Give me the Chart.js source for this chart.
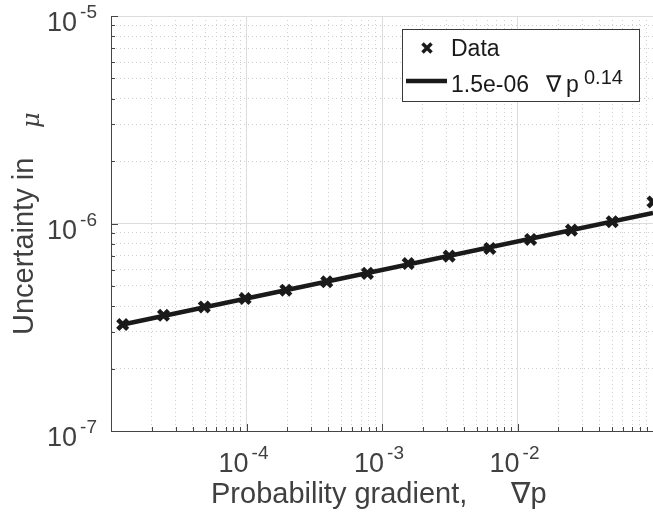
<!DOCTYPE html>
<html>
<head>
<meta charset="utf-8">
<script src="https://cdn.jsdelivr.net/npm/chart.js@4.4.1/dist/chart.umd.min.js"></script>
<style>
  html, body { margin: 0; padding: 0; background: #fff; }
  #wrap { width: 653px; height: 517px; }
</style>
</head>
<body>
<div id="wrap"><canvas id="gradChart" width="653" height="517"></canvas></div>
<script>
// Data
const gradP = [1.22e-5, 2.44e-5, 4.88e-5, 9.77e-5, 1.95e-4, 3.91e-4, 7.81e-4,
  1.56e-3, 3.13e-3, 6.25e-3, 1.25e-2, 2.5e-2, 5e-2, 1e-1];
const uncertainty = [3.26e-7, 3.61e-7, 3.96e-7, 4.35e-7, 4.77e-7, 5.24e-7, 5.75e-7,
  6.41e-7, 6.96e-7, 7.58e-7, 8.38e-7, 9.29e-7, 1.02e-6, 1.27e-6];

// Fitted power law, end points of the drawn line
const fitX = [1.22e-5, 1e-1];
const fitY = [3.26e-7, 1.125e-6];

// Axis decades and minor multipliers
const xDecades = [-5, -4, -3, -2, -1];
const yDecades = [-7, -6, -5];
const minorSteps = [1, 2, 3, 4, 5, 6, 7, 8, 9];
const xLabelExps = [-4, -3, -2];
const yLabelExps = [-7, -6, -5];

const legendLabels = ['Data', '1.5e-06', '0.14'];
const xTitle = ['Probability gradient,', '\u2207p'];
const yTitle = ['Uncertainty in', '\u03bc'];

const FONT = '"Liberation Sans", Arial, "DejaVu Sans", sans-serif';
const TEXT = '#404040';
const AXIS = '#454545';

function isDecade(v) {
  const l = Math.log10(v);
  return Math.abs(l - Math.round(l)) < 1e-6;
}

// build 1..9 x 10^n ticks inside [min, max]
function logTicks(decades, min, max) {
  const out = [];
  decades.forEach((e) => {
    minorSteps.forEach((m) => {
      const v = m * Math.pow(10, e);
      if (v >= min * 0.999 && v <= max * 1.001) out.push({ value: v, major: m === 1 });
    });
  });
  return out;
}

function gridColor(ctx) {
  if (!ctx.tick) return '#dedede';
  return isDecade(ctx.tick.value) ? '#dcdcdc' : '#cfcfcf';
}
function gridDash(ctx) {
  if (!ctx.tick) return [];
  return isDecade(ctx.tick.value) ? [] : [1, 3];
}

// draw "10" with a raised exponent
function drawPow(ctx, exp, x, baseline, align) {
  const base = '10';
  const sup = String(exp);
  ctx.font = '27px ' + FONT;
  const wb = ctx.measureText(base).width;
  ctx.font = '19px ' + FONT;
  const ws = ctx.measureText(sup).width;
  const gap = 3;
  const total = wb + gap + ws;
  let x0 = x;
  if (align === 'center') x0 = x - total / 2;
  if (align === 'right') x0 = x - total;
  ctx.textAlign = 'left';
  ctx.textBaseline = 'alphabetic';
  ctx.fillStyle = TEXT;
  ctx.font = '27px ' + FONT;
  ctx.fillText(base, x0, baseline);
  ctx.font = '19px ' + FONT;
  ctx.fillText(sup, x0 + wb + gap, baseline - 13);
}

const decorPlugin = {
  id: 'decor',
  afterDraw(chart) {
    const ctx = chart.ctx;
    const xs = chart.scales.x;
    const ys = chart.scales.y;
    const area = chart.chartArea;
    ctx.save();

    // inward tick marks
    ctx.strokeStyle = AXIS;
    ctx.lineWidth = 1;
    xs.ticks.forEach((t) => {
      const px = Math.round(xs.getPixelForValue(t.value)) + 0.5;
      const len = isDecade(t.value) ? 7 : 4;
      ctx.beginPath();
      ctx.moveTo(px, area.bottom);
      ctx.lineTo(px, area.bottom - len);
      ctx.stroke();
    });
    ys.ticks.forEach((t) => {
      const py = Math.round(ys.getPixelForValue(t.value)) + 0.5;
      const len = isDecade(t.value) ? 7 : 4;
      ctx.beginPath();
      ctx.moveTo(area.left, py);
      ctx.lineTo(area.left + len, py);
      ctx.stroke();
    });

    // tick labels
    xLabelExps.forEach((e) => {
      drawPow(ctx, e, xs.getPixelForValue(Math.pow(10, e)) - 3, 472, 'center');
    });
    yLabelExps.forEach((e) => {
      drawPow(ctx, e, 97, ys.getPixelForValue(Math.pow(10, e)) + 15, 'right');
    });

    // axis titles
    ctx.fillStyle = TEXT;
    ctx.textAlign = 'left';
    ctx.font = '29px ' + FONT;
    ctx.fillText(xTitle[0], 211, 503);
    ctx.fillText(xTitle[1], 511, 503);

    ctx.save();
    ctx.translate(33, 335);
    ctx.rotate(-Math.PI / 2);
    ctx.font = '29px ' + FONT;
    ctx.fillText(yTitle[0], 0, 0);
    ctx.font = 'italic 24px "DejaVu Serif", "Liberation Serif", serif';
    ctx.fillText(yTitle[1], 207, 6);
    ctx.restore();

    // legend box
    ctx.fillStyle = '#ffffff';
    ctx.fillRect(402.5, 29.5, 237, 72);
    ctx.strokeStyle = '#3a3a3a';
    ctx.lineWidth = 1;
    ctx.strokeRect(402.5, 29.5, 237, 72);

    // legend: marker entry
    ctx.strokeStyle = '#1a1a1a';
    ctx.lineWidth = 3.5;
    ctx.beginPath();
    ctx.moveTo(422.5, 43.5); ctx.lineTo(431.5, 52.5);
    ctx.moveTo(431.5, 43.5); ctx.lineTo(422.5, 52.5);
    ctx.stroke();
    ctx.fillStyle = '#1a1a1a';
    ctx.font = '23px ' + FONT;
    ctx.fillText(legendLabels[0], 451, 56);

    // legend: line entry
    ctx.lineWidth = 4.5;
    ctx.beginPath();
    ctx.moveTo(406, 81); ctx.lineTo(447, 81);
    ctx.stroke();
    ctx.font = '23px ' + FONT;
    ctx.fillText(legendLabels[1], 451, 92);
    ctx.fillText('\u2207', 546, 92);
    ctx.fillText('p', 566, 92);
    ctx.font = '20px ' + FONT;
    ctx.fillText(legendLabels[2], 584, 84);

    ctx.restore();
  },
};

function createChart() {
  const canvasElement = document.getElementById('gradChart');
  const chartContext = canvasElement.getContext('2d');

  /* global Chart */
  const chart = new Chart(chartContext, {
    type: 'scatter',
    data: {
      datasets: [
        {
          label: 'Data',
          data: gradP.map((x, i) => ({ x: x, y: uncertainty[i] })),
          showLine: false,
          pointStyle: 'crossRot',
          pointRadius: 7,
          pointBorderWidth: 4.5,
          pointBorderColor: '#1a1a1a',
          pointBackgroundColor: '#1a1a1a',
        },
        {
          label: 'Fit',
          data: fitX.map((x, i) => ({ x: x, y: fitY[i] })),
          showLine: true,
          pointRadius: 0,
          borderColor: '#1a1a1a',
          borderWidth: 4.5,
        },
      ],
    },
    options: {
      responsive: false,
      animation: false,
      layout: { autoPadding: false, padding: { top: 16, left: 0, right: 0, bottom: 0 } },
      plugins: {
        legend: { display: false },
        tooltip: { enabled: false },
      },
      scales: {
        x: {
          type: 'logarithmic',
          min: 1e-5,
          max: 1e-1,
          afterBuildTicks(scale) {
            scale.ticks = logTicks(xDecades, 1e-5, 1e-1);
          },
          afterFit(scale) {
            scale.height = 86;
          },
          ticks: { display: false },
          grid: { color: gridColor, lineWidth: 1, drawTicks: false },
          border: { display: true, color: AXIS, width: 1, dash: gridDash },
        },
        y: {
          type: 'logarithmic',
          min: 1e-7,
          max: 1e-5,
          afterBuildTicks(scale) {
            scale.ticks = logTicks(yDecades, 1e-7, 1e-5);
          },
          afterFit(scale) {
            scale.width = 111;
          },
          ticks: { display: false },
          grid: { color: gridColor, lineWidth: 1, drawTicks: false },
          border: { display: true, color: AXIS, width: 1, dash: gridDash },
        },
      },
    },
    plugins: [decorPlugin],
  });

  return chart;
}

document.addEventListener('DOMContentLoaded', createChart);
</script>
</body>
</html>
